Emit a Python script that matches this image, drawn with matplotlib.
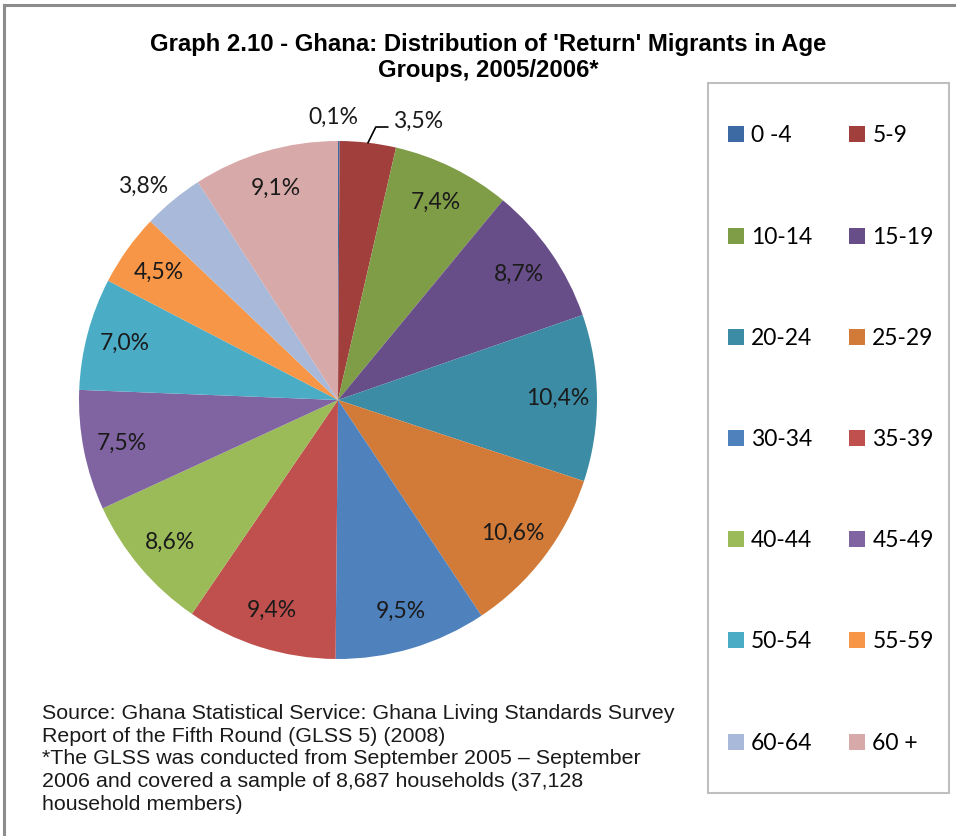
import matplotlib
matplotlib.use("Agg")
import matplotlib.pyplot as plt
import numpy as np
from matplotlib.patches import Rectangle
from matplotlib.lines import Line2D

# data (percent of return migrants)
groups = ['0 -4', '5-9', '10-14', '15-19', '20-24', '25-29', '30-34',
          '35-39', '40-44', '45-49', '50-54', '55-59', '60-64', '60 +']
shares = [0.1, 3.5, 7.4, 8.7, 10.4, 10.6, 9.5, 9.4, 8.6, 7.5, 7.0, 4.5, 3.8, 9.1]
colors = ['#3D6AA3', '#A03F3C', '#7F9C47', '#684E88', '#3B8CA4', '#D27B39',
          '#4F81BD', '#C0504D', '#9BBB59', '#8064A2', '#4BACC6', '#F79646',
          '#A9B9D9', '#D8A9A9']

title = "Graph 2.10 - Ghana: Distribution of 'Return' Migrants in Age\nGroups, 2005/2006*"
note = ("Source: Ghana Statistical Service: Ghana Living Standards Survey\n"
        "Report of the Fifth Round (GLSS 5) (2008)\n"
        "*The GLSS was conducted from September 2005 \u2013 September\n"
        "2006 and covered a sample of 8,687 households (37,128\n"
        "household members)")

W, H = 956, 836
fig = plt.figure(figsize=(W / 100, H / 100), dpi=100)

lblfont = ['Lato', 'DejaVu Sans']

# outer chart frame (top and left edges visible)
fig.add_artist(Line2D([4 / W, 1], [1 - 5 / H, 1 - 5 / H], color='#8C8C8C', lw=2.2,
                      transform=fig.transFigure))
fig.add_artist(Line2D([4 / W, 4 / W], [0, 1 - 5 / H], color='#8C8C8C', lw=2.2,
                      transform=fig.transFigure))

# pie: centre (338,400), radius 259 px
cx, cy, r = 338, 400, 259
ax = fig.add_axes([(cx - r) / W, (H - cy - r) / H, 2 * r / W, 2 * r / H])
labels = [('%.1f%%' % v).replace('.', ',') for v in shares]
wedges, texts = ax.pie(shares, colors=colors, startangle=90, counterclock=False,
                       labels=labels, labeldistance=0.85,
                       wedgeprops=dict(linewidth=0),
                       textprops=dict(fontsize=16.5, family=lblfont, color='#1a1a1a'))
ax.set_xlim(-1, 1)
ax.set_ylim(-1, 1)
ax.set_aspect('equal')
ax.axis('off')

for i, (w, t) in enumerate(zip(wedges, texts)):
    t.set_ha('center')
    t.set_va('center')
    mid = np.deg2rad((w.theta1 + w.theta2) / 2)
    if i == 0:
        t.set_position((1.09 * np.cos(mid) - 0.02, 1.09 * np.sin(mid)))
    elif i == 1:
        # leader line from the wedge edge
        x0, y0 = np.cos(mid), np.sin(mid)
        x1, y1 = x0 + 0.03, 1.054
        x2 = x1 + 0.046
        ax.plot([x0, x1, x2], [y0, y1, y1], color='black', lw=1.2, clip_on=False)
        t.set_position((x2 + 0.02, y1 + 0.02))
        t.set_ha('left')
    elif i == 12:
        t.set_position((1.12 * np.cos(mid) - 0.04, 1.12 * np.sin(mid) - 0.04))

fig.text(488 / W, 1 - 57.5 / H, title, ha='center', va='center', fontsize=17.2,
         fontweight='bold', family=['Liberation Sans'], linespacing=1.12)

fig.text(42 / W, 1 - 759 / H, note, ha='left', va='center', fontsize=15.4,
         family=['Liberation Sans'], linespacing=1.25, color='#1a1a1a')

# legend box
fig.add_artist(Rectangle((708 / W, 1 - 793 / H), (949 - 708) / W, (793 - 83) / H,
                         transform=fig.transFigure, fill=False,
                         edgecolor='#BFBFBF', lw=1.5))
order = list(range(0, 14, 2)) + list(range(1, 14, 2))
leg = fig.legend([wedges[k] for k in order], [groups[k] for k in order],
                 ncol=2, loc='center', bbox_to_anchor=(831 / W, 1 - 439.5 / H),
                 frameon=False, prop=dict(family=lblfont, size=16.5),
                 handlelength=0.7, handleheight=0.7, handletextpad=0.3,
                 columnspacing=1.6, labelspacing=3.5, borderpad=0)

fig.savefig('out.png', dpi=100)
